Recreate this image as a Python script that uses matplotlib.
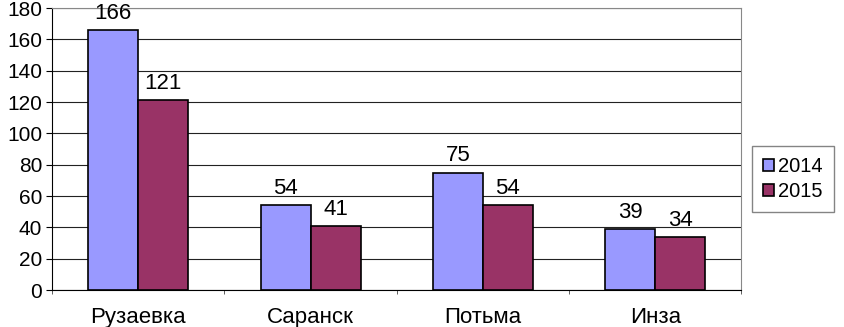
import numpy as np
import matplotlib.pyplot as plt

plt.rcParams['font.family'] = ['Liberation Sans', 'DejaVu Sans']

cities = ["Рузаевка", "Саранск", "Потьма", "Инза"]
years = ["2014", "2015"]
v2014 = [166, 54, 75, 39]
v2015 = [121, 41, 54, 34]

fig = plt.figure(figsize=(8.45, 3.27), dpi=100)
ax = fig.add_axes([0.0615, 0.113, 0.816, 0.8625])

x = np.arange(len(cities))
w = 0.29
b1 = ax.bar(x - w/2, v2014, w, color="#9999FF", edgecolor="black", linewidth=1.2, label=years[0], zorder=3)
b2 = ax.bar(x + w/2, v2015, w, color="#993366", edgecolor="black", linewidth=1.2, label=years[1], zorder=3)

for bars in (b1, b2):
    for r in bars:
        ax.text(r.get_x() + r.get_width()/2, r.get_height() + 4, str(int(r.get_height())),
                ha="center", va="bottom", fontsize=16)

ax.set_ylim(0, 180)
ax.set_yticks(range(0, 181, 20))
ax.set_xlim(-0.5, 3.5)
ax.set_xticks(x)
ax.set_xticklabels(cities)
ax.set_xticks(np.arange(-0.5, 4, 1), minor=True)
ax.tick_params(axis="x", which="major", length=0, labelsize=16, pad=12)
ax.tick_params(axis="x", which="minor", length=3, direction="out", color="#444444")
ax.tick_params(axis="y", length=4, labelsize=15, color="black", pad=3)
ax.grid(axis="y", color="#222222", linewidth=0.8, zorder=0)

ax.spines["top"].set_color("#888888")
ax.spines["right"].set_color("#888888")
ax.spines["left"].set_color("black")
ax.spines["bottom"].set_color("black")

fig.legend(loc="center left", bbox_to_anchor=(752/845, 1 - 179/327), fontsize=14.5,
           frameon=True, fancybox=False, edgecolor="#666666", handlelength=0.55, handleheight=0.55,
           handletextpad=0.2, borderpad=0.55, borderaxespad=0, labelspacing=0.3)
fig.legends[0]._legend_box.sep = 0
for t in fig.legends[0].get_texts():
    pass

fig.savefig("out.png", dpi=100)
